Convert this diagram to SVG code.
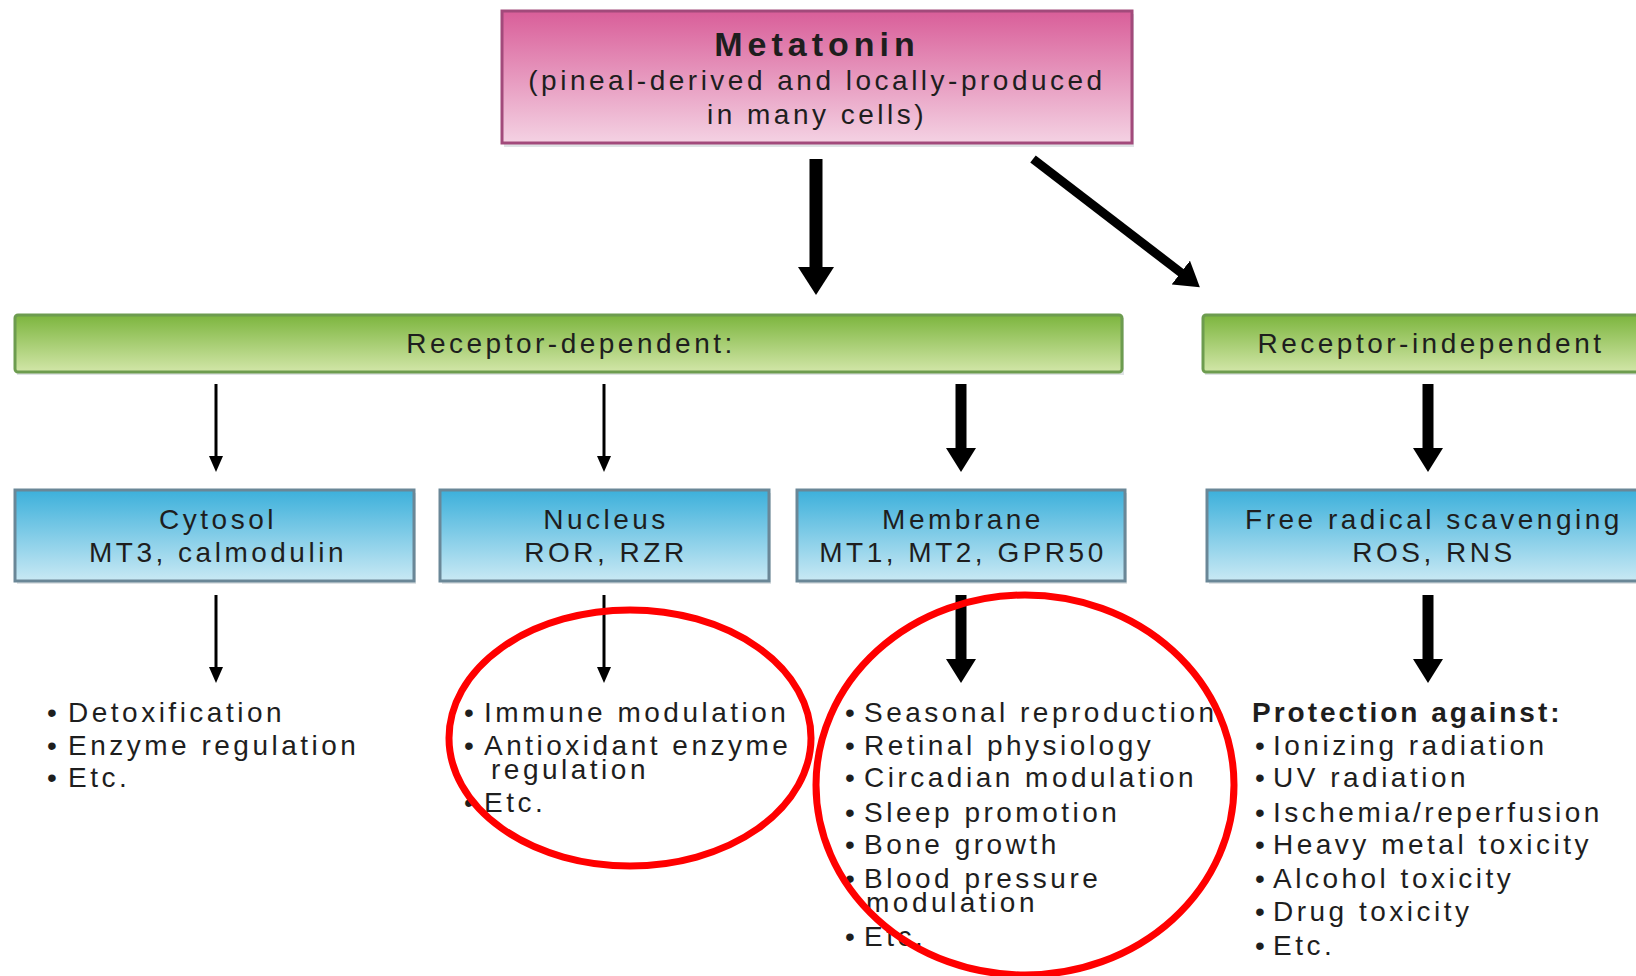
<svg xmlns="http://www.w3.org/2000/svg" width="1636" height="976" viewBox="0 0 1636 976">
<defs>
<linearGradient id="gPink" x1="0" y1="0" x2="0" y2="1">
<stop offset="0" stop-color="#d95e99"/><stop offset="1" stop-color="#f4d2e3"/>
</linearGradient>
<linearGradient id="gGreen" x1="0" y1="0" x2="0" y2="1">
<stop offset="0" stop-color="#7cb53e"/><stop offset="1" stop-color="#d2e6a8"/>
</linearGradient>
<linearGradient id="gBlue" x1="0" y1="0" x2="0" y2="1">
<stop offset="0" stop-color="#3cb0db"/><stop offset="1" stop-color="#c9e9f4"/>
</linearGradient>
<marker id="ahL" viewBox="0 0 28 36" markerWidth="28" markerHeight="36" refX="6" refY="18" orient="auto" markerUnits="userSpaceOnUse">
<path d="M0,0 L28,18 L0,36 Z" fill="#000"/>
</marker>
<marker id="ah" viewBox="0 0 24 30" markerWidth="24" markerHeight="30" refX="4" refY="15" orient="auto" markerUnits="userSpaceOnUse">
<path d="M0,0 L24,15 L0,30 Z" fill="#000"/>
</marker>
<marker id="ahs" viewBox="0 0 16 14" markerWidth="16" markerHeight="14" refX="2" refY="7" orient="auto" markerUnits="userSpaceOnUse">
<path d="M0,0 L16,7 L0,14 Z" fill="#000"/>
</marker>
</defs>
<style>
.t{font-family:"Liberation Sans",Arial,sans-serif;font-size:28px;letter-spacing:3.5px;fill:#1e1e1e}
.c{text-anchor:middle}
.b{font-weight:bold;letter-spacing:3px}
.pink{fill:url(#gPink);stroke:#a24a7b;stroke-width:3}
.green{fill:url(#gGreen);stroke:#6d9c4f;stroke-width:3}
.blue{fill:url(#gBlue);stroke:#6a8797;stroke-width:3}
.sh{fill:#dfe3e5}
.thin{stroke:#000;stroke-width:3;fill:none;marker-end:url(#ahs)}
.thick{stroke:#000;stroke-width:11;fill:none;marker-end:url(#ah)}
.ring{fill:none;stroke:#ff0000;stroke-width:7}
</style>
<rect width="1636" height="976" fill="#fff"/>

<g id="connectors">
<line x1="816" y1="159" x2="816" y2="273" stroke="#000" stroke-width="13" marker-end="url(#ahL)"/>
<line x1="1033" y1="159" x2="1184" y2="275" stroke="#000" stroke-width="9" marker-end="url(#ah)"/>
<line class="thin" x1="216" y1="384" x2="216" y2="458"/>
<line class="thin" x1="604" y1="384" x2="604" y2="458"/>
<line class="thick" x1="961" y1="384" x2="961" y2="452"/>
<line class="thick" x1="1428" y1="384" x2="1428" y2="452"/>
<line class="thin" x1="216" y1="595" x2="216" y2="669"/>
<line class="thin" x1="604" y1="595" x2="604" y2="669"/>
<line class="thick" x1="961" y1="595" x2="961" y2="663"/>
<line class="thick" x1="1428" y1="595" x2="1428" y2="663"/>
</g>

<g id="melatonin">
<rect class="sh" x="504" y="14" width="630" height="133"/>
<rect class="pink" x="502" y="11" width="630" height="132"/>
<text class="t c b" x="817" y="56" style="font-size:34px;letter-spacing:5px">Metatonin</text>
<text class="t c" x="817" y="90">(pineal-derived and locally-produced</text>
<text class="t c" x="817" y="124">in many cells)</text>
</g>

<g id="receptor-dependent">
<rect class="sh" x="17" y="318" width="1107" height="57"/>
<rect class="green" x="15" y="315" width="1107" height="57" rx="3"/>
<text class="t c" x="571" y="353">Receptor-dependent:</text>
</g>

<g id="receptor-independent">
<rect class="sh" x="1205" y="318" width="450" height="57"/>
<rect class="green" x="1203" y="315" width="450" height="57" rx="3"/>
<text class="t c" x="1431" y="353">Receptor-independent</text>
</g>

<g id="cytosol">
<rect class="sh" x="17" y="493" width="399" height="91"/>
<rect class="blue" x="15" y="490" width="399" height="91"/>
<text class="t c" x="218" y="529">Cytosol</text>
<text class="t c" x="218" y="562">MT3, calmodulin</text>
</g>

<g id="nucleus">
<rect class="sh" x="442" y="493" width="329" height="91"/>
<rect class="blue" x="440" y="490" width="329" height="91"/>
<text class="t c" x="606" y="529">Nucleus</text>
<text class="t c" x="606" y="562">ROR, RZR</text>
</g>

<g id="membrane">
<rect class="sh" x="799" y="493" width="328" height="91"/>
<rect class="blue" x="797" y="490" width="328" height="91"/>
<text class="t c" x="963" y="529">Membrane</text>
<text class="t c" x="963" y="562">MT1, MT2, GPR50</text>
</g>

<g id="free-radical">
<rect class="sh" x="1209" y="493" width="450" height="91"/>
<rect class="blue" x="1207" y="490" width="450" height="91"/>
<text class="t c" x="1434" y="529">Free radical scavenging</text>
<text class="t c" x="1434" y="562">ROS, RNS</text>
</g>

<g id="cytosol-effects">
<text class="t"><tspan x="47" y="722">•</tspan><tspan x="68" y="722">Detoxification</tspan></text>
<text class="t"><tspan x="47" y="755">•</tspan><tspan x="68" y="755">Enzyme regulation</tspan></text>
<text class="t"><tspan x="47" y="787">•</tspan><tspan x="68" y="787">Etc.</tspan></text>
</g>

<g id="nucleus-effects">
<text class="t"><tspan x="464" y="722">•</tspan><tspan x="484" y="722">Immune modulation</tspan></text>
<text class="t"><tspan x="464" y="755">•</tspan><tspan x="484" y="755">Antioxidant enzyme</tspan></text>
<text class="t" x="491" y="779">regulation</text>
<text class="t"><tspan x="464" y="812">•</tspan><tspan x="484" y="812">Etc.</tspan></text>
</g>

<g id="membrane-effects">
<text class="t"><tspan x="845" y="722">•</tspan><tspan x="864" y="722">Seasonal reproduction</tspan></text>
<text class="t"><tspan x="845" y="755">•</tspan><tspan x="864" y="755">Retinal physiology</tspan></text>
<text class="t"><tspan x="845" y="787">•</tspan><tspan x="864" y="787">Circadian modulation</tspan></text>
<text class="t"><tspan x="845" y="822">•</tspan><tspan x="864" y="822">Sleep promotion</tspan></text>
<text class="t"><tspan x="845" y="854">•</tspan><tspan x="864" y="854">Bone growth</tspan></text>
<text class="t"><tspan x="845" y="888">•</tspan><tspan x="864" y="888">Blood pressure</tspan></text>
<text class="t" x="866" y="912">modulation</text>
<text class="t"><tspan x="845" y="946">•</tspan><tspan x="864" y="946">Etc.</tspan></text>
</g>

<g id="scavenging-effects">
<text class="t b" x="1252" y="722">Protection against:</text>
<text class="t"><tspan x="1255" y="755">•</tspan><tspan x="1273" y="755">Ionizing radiation</tspan></text>
<text class="t"><tspan x="1255" y="787">•</tspan><tspan x="1273" y="787">UV radiation</tspan></text>
<text class="t"><tspan x="1255" y="822">•</tspan><tspan x="1273" y="822">Ischemia/reperfusion</tspan></text>
<text class="t"><tspan x="1255" y="854">•</tspan><tspan x="1273" y="854">Heavy metal toxicity</tspan></text>
<text class="t"><tspan x="1255" y="888">•</tspan><tspan x="1273" y="888">Alcohol toxicity</tspan></text>
<text class="t"><tspan x="1255" y="921">•</tspan><tspan x="1273" y="921">Drug toxicity</tspan></text>
<text class="t"><tspan x="1255" y="955">•</tspan><tspan x="1273" y="955">Etc.</tspan></text>
</g>

<g id="highlights">
<ellipse class="ring" cx="630" cy="738" rx="181" ry="128"/>
<ellipse class="ring" cx="1025" cy="785" rx="209" ry="190"/>
</g>
</svg>
